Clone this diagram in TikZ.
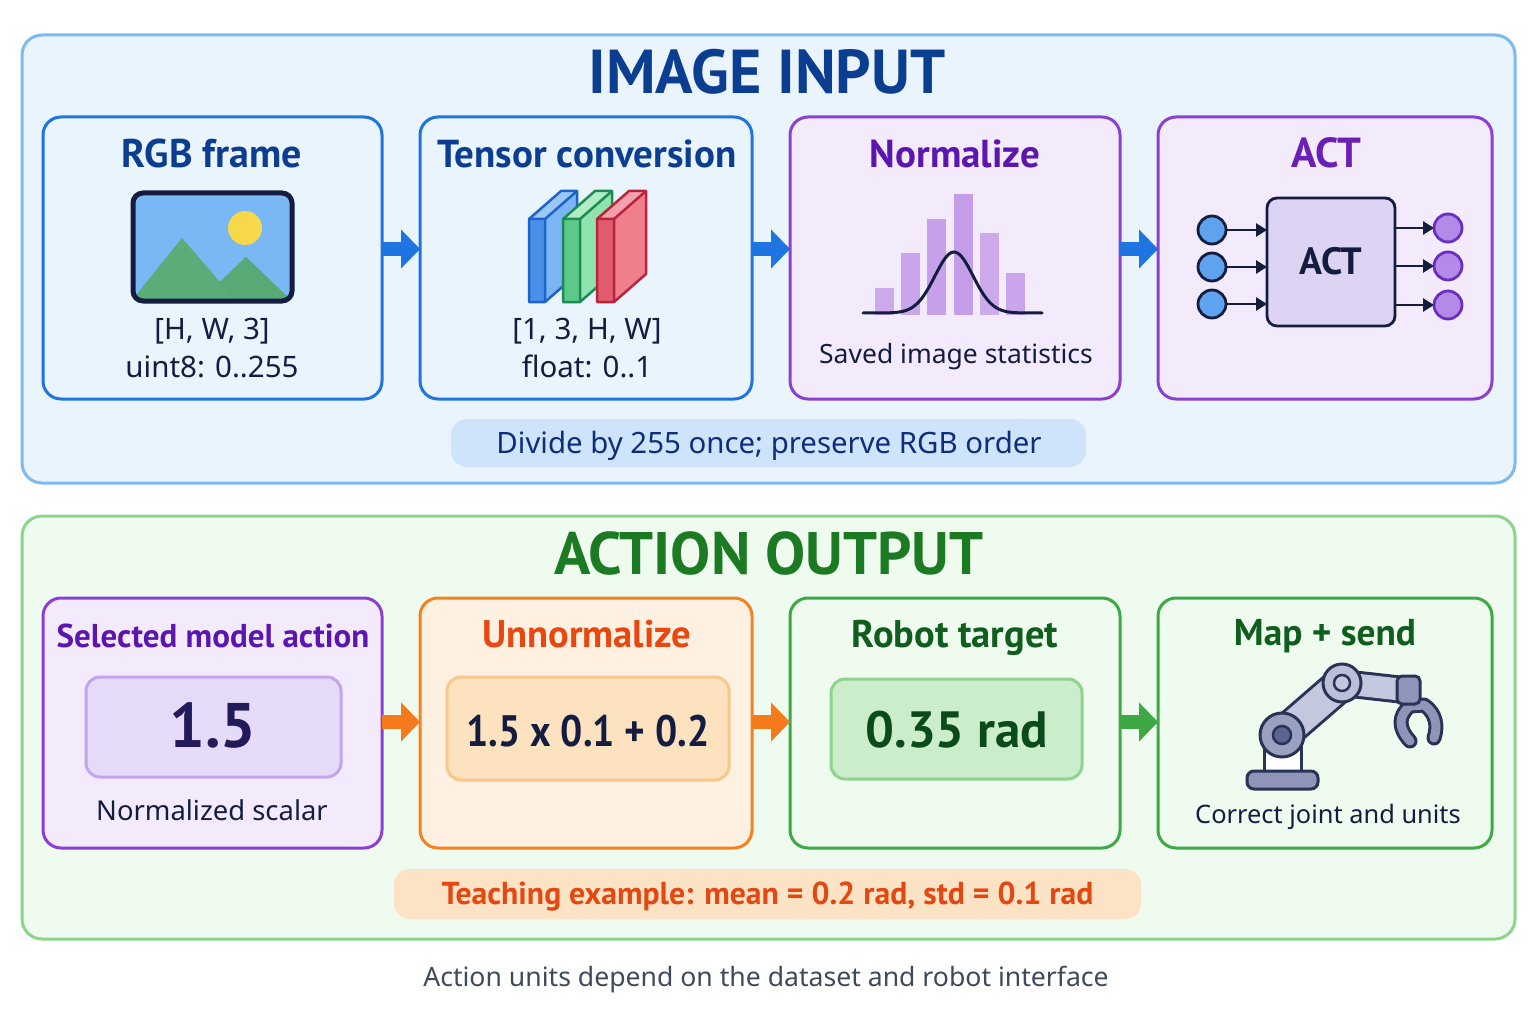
\documentclass[tikz,border=0pt]{standalone}
\usepackage{fontspec}
\setmainfont{Noto Sans}
\newfontfamily\hb{PT Sans}
\usetikzlibrary{arrows.meta}
\definecolor{tpFill}{HTML}{EAF4FD}
\definecolor{tpStroke}{HTML}{7DB9F2}
\definecolor{titleBlue}{HTML}{0B3D91}
\definecolor{bStroke}{HTML}{1E74E0}
\definecolor{bFill}{HTML}{EAF4FD}
\definecolor{pStroke}{HTML}{8B3FD4}
\definecolor{pFill}{HTML}{F3EBFB}
\definecolor{pTitle}{HTML}{5B16B0}
\definecolor{navy}{HTML}{141D40}
\definecolor{pillBlue}{HTML}{CDE4FA}
\definecolor{pillBlueText}{HTML}{0F2D7A}
\definecolor{bpFill}{HTML}{EEFBEE}
\definecolor{bpStroke}{HTML}{8CD68C}
\definecolor{gTitle}{HTML}{1B7A22}
\definecolor{gStroke}{HTML}{3DAA45}
\definecolor{gBoxTitle}{HTML}{0F5E1E}
\definecolor{oStroke}{HTML}{F58220}
\definecolor{oFill}{HTML}{FFF1E2}
\definecolor{oTitle}{HTML}{E8470F}
\definecolor{oInFill}{HTML}{FDE2BF}
\definecolor{oInStroke}{HTML}{F9C78A}
\definecolor{gInFill}{HTML}{CBEDCB}
\definecolor{gInStroke}{HTML}{8ED48E}
\definecolor{gInText}{HTML}{0B4A1A}
\definecolor{pInFill}{HTML}{E5DAF8}
\definecolor{pInStroke}{HTML}{C3A5EE}
\definecolor{oneFive}{HTML}{231A5C}
\definecolor{tPill}{HTML}{FDE3C5}
\definecolor{tPillText}{HTML}{E4470F}
\definecolor{footGray}{HTML}{3E4A5C}
\definecolor{aBlue}{HTML}{1E74E0}
\definecolor{aOrange}{HTML}{F57A1C}
\definecolor{aGreen}{HTML}{3DA845}
\definecolor{skyBlue}{HTML}{7AB8F5}
\definecolor{sunYellow}{HTML}{F7D84A}
\definecolor{mountGreen}{HTML}{5AAD78}
\definecolor{mountGreenB}{HTML}{4E9F6C}
\definecolor{actPurple}{HTML}{6A1FB5}
\definecolor{actInFill}{HTML}{DDD3F3}
\definecolor{lDot}{HTML}{5FA3EF}
\definecolor{rDot}{HTML}{B48AE8}
\definecolor{rDotStroke}{HTML}{6A2FBF}
\definecolor{armFill}{HTML}{C3C8DE}
\definecolor{jointFill}{HTML}{9AA1C0}
\definecolor{jointIn}{HTML}{5B6590}
\definecolor{armNavy}{HTML}{2A3355}
\definecolor{baseFill}{HTML}{8E95B8}
\definecolor{slabBf}{HTML}{4A90E8}
\definecolor{slabBs}{HTML}{7AB6F5}
\definecolor{slabBt}{HTML}{9CC8F8}
\definecolor{slabBk}{HTML}{1D63C9}
\definecolor{slabGf}{HTML}{5CC98A}
\definecolor{slabGs}{HTML}{90E2AE}
\definecolor{slabGt}{HTML}{B0ECC4}
\definecolor{slabGk}{HTML}{1E8A55}
\definecolor{slabRf}{HTML}{E25C70}
\definecolor{slabRs}{HTML}{F07F8E}
\definecolor{slabRt}{HTML}{F5A0AC}
\definecolor{slabRk}{HTML}{B8243A}
\newcommand\fsz[1]{\fontsize{#1}{#1}\selectfont}
\newcommand\tslab[6]{%
  \fill[#4] (#1,219) -- (#1+32,191) -- (#1+#2+32,191) -- (#1+#2,219) -- cycle;
  \fill[#5] (#1+#2,219) -- (#1+#2+32,191) -- (#1+#2+32,274) -- (#1+#2,302) -- cycle;
  \fill[#3] (#1,219) rectangle (#1+#2,302);
  \draw[#6, line width=2.5pt, line join=round] (#1,219) -- (#1+32,191) -- (#1+#2+32,191) -- (#1+#2+32,274) -- (#1+#2,302) -- (#1,302) -- cycle;
  \draw[#6, line width=2.5pt, line join=round] (#1,219) -- (#1+#2,219) -- (#1+#2+32,191) (#1+#2,219) -- (#1+#2,302);
}
\begin{document}
\begin{tikzpicture}[x=1pt,y=-1pt,
  panel/.style={line width=3pt, rounded corners=20pt, inner sep=0pt, outer sep=0pt},
  box/.style={line width=3pt, rounded corners=18pt, inner sep=0pt, outer sep=0pt},
  inbox/.style={line width=3pt, rounded corners=14pt, inner sep=0pt, outer sep=0pt},
  pill/.style={rounded corners=16pt, inner sep=0pt, outer sep=0pt},
  lbl/.style={anchor=base, inner sep=0pt},
  bigtitle/.style={lbl, font=\hb\bfseries\fsz{62}},
  btitle/.style={lbl, font=\hb\bfseries\fsz{39}},
  body/.style={lbl, font=\fsz{28}, text=navy},
  blockarrow/.style={line width=14pt, -{Triangle[length=19pt,width=38pt]}},
  smallarrow/.style={line width=2.8pt, draw=navy, -{Triangle[length=11pt,width=13pt]}},
  dot/.style={circle, minimum size=28pt, inner sep=0pt, outer sep=0pt, line width=2.8pt}
]
\useasboundingbox (0,0) rectangle (1536,1024);
\fill[white] (0,0) rectangle (1536,1024);

% ---------------- top panel
\node[panel, draw=tpStroke, fill=tpFill, minimum width=1493pt, minimum height=448pt] (top) at (768.5,259) {};
\node[bigtitle, text=titleBlue] (ttop) at (767,94) {IMAGE INPUT};

\node[box, draw=bStroke, fill=bFill, minimum width=339pt, minimum height=282pt] (b1) at (212.5,258) {};
\node[box, draw=bStroke, fill=bFill, minimum width=332pt, minimum height=282pt] (b2) at (586,258) {};
\node[box, draw=pStroke, fill=pFill, minimum width=330pt, minimum height=282pt] (b3) at (955,258) {};
\node[box, draw=pStroke, fill=pFill, minimum width=334pt, minimum height=282pt] (b4) at (1325,258) {};

\node[btitle, font=\hb\bfseries\fsz{40}, text=titleBlue] (b1t) at (212,168) {RGB frame};
\node[btitle, text=titleBlue] (b2t) at (587,168) {Tensor conversion};
\node[btitle, text=pTitle] (b3t) at (955,168) {Normalize};
\node[btitle, font=\hb\bfseries\fsz{42}, text=actPurple] (b4t) at (1326,168) {ACT};

\node[body, font=\fsz{29.5}] (b1a) at (212,339) {[H, W, 3]};
\node[body, font=\fsz{29.5}] (b1b) at (212,377) {uint8: 0..255};
\node[body, font=\fsz{29.5}] (b2a) at (587,339) {[1, 3, H, W]};
\node[body, font=\fsz{29.5}] (b2b) at (587,377) {float: 0..1};
\node[body, font=\fsz{26.5}] (b3a) at (956,363) {Saved image statistics};

\coordinate (rowA) at (0,249);
\draw[blockarrow, draw=aBlue, fill=aBlue] (b1.east |- rowA) -- (b2.west |- rowA);
\draw[blockarrow, draw=aBlue, fill=aBlue] (b2.east |- rowA) -- (b3.west |- rowA);
\draw[blockarrow, draw=aBlue, fill=aBlue] (b3.east |- rowA) -- (b4.west |- rowA);

\node[pill, fill=pillBlue, minimum width=635pt, minimum height=48pt] (p1) at (768.5,443) {};
\node[lbl, font=\fsz{29.4}, text=pillBlueText] (p1t) at (769,453) {Divide by 255 once; preserve RGB order};

% image icon
\begin{scope}
  \clip[rounded corners=9pt] (133,193) rectangle (292,301);
  \fill[skyBlue] (133,193) rectangle (292,301);
  \fill[sunYellow] (245,228) circle (17);
  \fill[mountGreenB] (196,305) -- (246,257) -- (296,305) -- cycle;
  \fill[mountGreen] (128,305) -- (182,238) -- (240,305) -- cycle;
  \fill[mountGreen, opacity=0.8] (196,305) -- (246,257) -- (296,305) -- cycle;
\end{scope}
\draw[navy, line width=5pt, rounded corners=10pt] (133,193) rectangle (292,301);

% tensor icon
\tslab{529}{16}{slabBf}{slabBt}{slabBs}{slabBk}
\tslab{563}{17}{slabGf}{slabGt}{slabGs}{slabGk}
\tslab{597}{17}{slabRf}{slabRt}{slabRs}{slabRk}

% histogram
\foreach \xa/\xb/\yt/\op in {875/894/288/0.75, 901/920/253/0.8, 927/946/219/0.85, 954/973/194/0.9, 980/999/233/0.75, 1006/1025/273/0.8}{
  \fill[pStroke!55!white, opacity=\op] (\xa,\yt) rectangle (\xb,315);
}
\draw[navy, line width=3pt, line cap=round] plot[domain=863:1042, samples=80] (\x, {313-61*exp(-((\x-954)/27)^2)});

% ACT icon
\node[line width=2.8pt, draw=navy, fill=actInFill, rounded corners=10pt, minimum width=128pt, minimum height=128pt, inner sep=0pt, outer sep=0pt] (actc) at (1331,262) {};
\node[lbl, font=\hb\bfseries\fsz{38}, text=navy] (actt) at (1331,275) {ACT};
\foreach \i/\yy in {1/230, 2/267, 3/304}{
  \node[dot, draw=navy, fill=lDot] (l\i) at (1212,\yy) {};
  \draw[smallarrow] (l\i.east) -- (actc.west |- l\i);
}
\foreach \i/\yy in {1/228, 2/266, 3/305}{
  \node[dot, draw=rDotStroke, fill=rDot] (r\i) at (1448,\yy) {};
  \draw[smallarrow] (actc.east |- r\i) -- (r\i.west);
}

% ---------------- bottom panel
\node[panel, draw=bpStroke, fill=bpFill, minimum width=1493pt, minimum height=423pt] (bot) at (768.5,727.5) {};
\node[bigtitle, font=\hb\bfseries\fsz{60}, text=gTitle] (tbot) at (769,574) {ACTION OUTPUT};

\node[box, draw=pStroke, fill=pFill, minimum width=339pt, minimum height=250pt] (c1) at (212.5,723) {};
\node[box, draw=oStroke, fill=oFill, minimum width=332pt, minimum height=250pt] (c2) at (586,723) {};
\node[box, draw=gStroke, fill=bpFill, minimum width=330pt, minimum height=250pt] (c3) at (955,723) {};
\node[box, draw=gStroke, fill=bpFill, minimum width=334pt, minimum height=250pt] (c4) at (1325,723) {};

\node[btitle, font=\hb\bfseries\fsz{33}, text=pTitle] (c1t) at (213,647) {Selected model action};
\node[btitle, font=\hb\bfseries\fsz{38.5}, text=oTitle] (c2t) at (587,647) {Unnormalize};
\node[btitle, font=\hb\bfseries\fsz{38.5}, text=gBoxTitle] (c3t) at (955,647) {Robot target};
\node[btitle, font=\hb\bfseries\fsz{37.3}, text=gBoxTitle] (c4t) at (1325,645) {Map + send};

\node[inbox, draw=pInStroke, fill=pInFill, minimum width=255pt, minimum height=100pt] (c1i) at (213.5,727) {};
\node[lbl, font=\hb\bfseries\fsz{63}, text=oneFive] (c1v) at (213,747) {1.5};
\node[inbox, draw=oInStroke, fill=oInFill, minimum width=282pt, minimum height=103pt] (c2i) at (588,728.5) {};
\node[lbl, font=\hb\bfseries\fsz{44}, text=navy] (c2v) at (588,746) {\scalebox{0.89}[1]{1.5 x 0.1 + 0.2}};
\node[inbox, draw=gInStroke, fill=gInFill, minimum width=251pt, minimum height=100pt] (c3i) at (956.5,729) {};
\node[lbl, font=\hb\bfseries\fsz{51}, text=gInText] (c3v) at (957,747) {0.35 rad};

\node[body, font=\fsz{27.4}] (c1a) at (212,820) {Normalized scalar};
\node[body, font=\fsz{25.4}] (c4a) at (1328,823) {Correct joint and units};

\coordinate (rowB) at (0,722);
\draw[blockarrow, draw=aOrange, fill=aOrange] (c1.east |- rowB) -- (c2.west |- rowB);
\draw[blockarrow, draw=aOrange, fill=aOrange] (c2.east |- rowB) -- (c3.west |- rowB);
\draw[blockarrow, draw=aGreen, fill=aGreen] (c3.east |- rowB) -- (c4.west |- rowB);

\node[pill, fill=tPill, minimum width=747pt, minimum height=50pt] (p2) at (767.5,894) {};
\node[lbl, font=\hb\bfseries\fsz{31.7}, text=tPillText] (p2t) at (767.5,904) {Teaching example: mean = 0.2 rad, std = 0.1 rad};

\node[lbl, font=\fsz{26.6}, text=footGray] (foot) at (766,986) {Action units depend on the dataset and robot interface};

% robot arm
\draw[armNavy, fill=white, line width=3pt] (1264,746) rectangle (1301,772);
\draw[armNavy, fill=baseFill, line width=3pt, rounded corners=7pt] (1247,789) -- (1247,771) -- (1318,771) -- (1318,789) -- cycle;
\draw[armNavy, line width=36pt] (1282,735) -- (1342,683);
\draw[armFill, line width=30pt] (1282,735) -- (1342,683);
\draw[armNavy, line width=28pt] (1342,683) -- (1404,690);
\draw[armFill, line width=22pt] (1342,683) -- (1404,690);
\draw[armNavy, line width=15pt, line cap=round, line join=round] (1410,741) .. controls (1398,728) and (1398,716) .. (1410,706) -- (1424,705) .. controls (1436,713) and (1438,726) .. (1434,738);
\draw[baseFill, line width=9pt, line cap=round, line join=round] (1410,741) .. controls (1398,728) and (1398,716) .. (1410,706) -- (1424,705) .. controls (1436,713) and (1438,726) .. (1434,738);
\draw[armNavy, fill=baseFill, line width=3pt, rounded corners=5pt] (1397,676) rectangle (1420,704);
\draw[armNavy, fill=jointFill, line width=3pt] (1282,735) circle (22);
\draw[armNavy, fill=jointIn, line width=2.5pt] (1282,735) circle (9);
\draw[armNavy, fill=armFill!80!jointFill, line width=3pt] (1342,683) circle (19);
\draw[armNavy, fill=armFill, line width=2.5pt] (1342,683) circle (8);
\end{tikzpicture}
\end{document}
